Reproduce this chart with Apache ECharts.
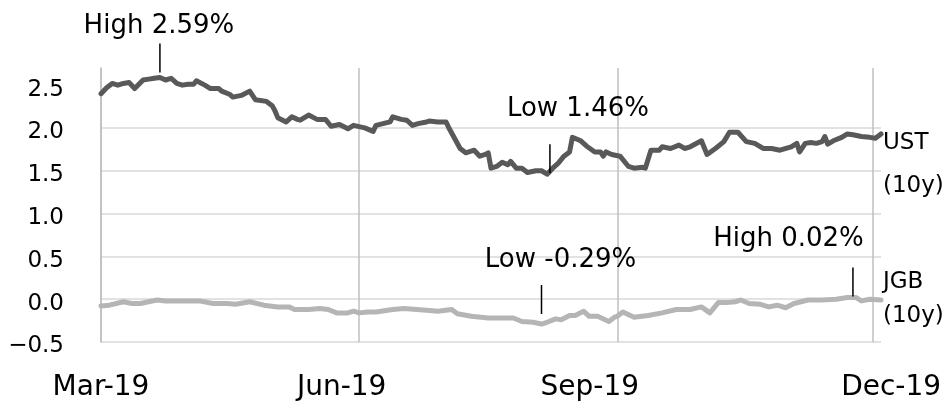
<!DOCTYPE html>
<html><head><meta charset="utf-8">
<script src="https://cdn.jsdelivr.net/npm/echarts@6/dist/echarts.min.js"></script>
<style>html,body{margin:0;padding:0;background:#fff}#c{width:949px;height:402px}</style>
</head><body><div id="c"></div>
<script>
const ustDates = ['2019-03-01','2019-03-03','2019-03-05','2019-03-07','2019-03-09','2019-03-11','2019-03-13','2019-03-16','2019-03-18','2019-03-20','2019-03-22','2019-03-24','2019-03-26','2019-03-28','2019-03-30','2019-04-01','2019-04-03','2019-04-04','2019-04-07','2019-04-09','2019-04-12','2019-04-13','2019-04-16','2019-04-17','2019-04-20','2019-04-23','2019-04-25','2019-04-29','2019-05-01','2019-05-02','2019-05-03','2019-05-06','2019-05-08','2019-05-10','2019-05-11','2019-05-14','2019-05-17','2019-05-20','2019-05-22','2019-05-25','2019-05-28','2019-05-30','2019-06-03','2019-06-06','2019-06-07','2019-06-12','2019-06-13','2019-06-16','2019-06-18','2019-06-20','2019-06-22','2019-06-25','2019-06-26','2019-06-29','2019-07-02','2019-07-03','2019-07-05','2019-07-07','2019-07-09','2019-07-12','2019-07-14','2019-07-16','2019-07-17','2019-07-18','2019-07-20','2019-07-22','2019-07-24','2019-07-25','2019-07-27','2019-07-29','2019-07-31','2019-08-03','2019-08-05','2019-08-07','2019-08-09','2019-08-11','2019-08-13','2019-08-15','2019-08-16','2019-08-19','2019-08-21','2019-08-24','2019-08-26','2019-08-27','2019-08-28','2019-08-30','2019-09-02','2019-09-05','2019-09-07','2019-09-10','2019-09-11','2019-09-13','2019-09-16','2019-09-17','2019-09-20','2019-09-23','2019-09-25','2019-09-27','2019-10-01','2019-10-03','2019-10-06','2019-10-09','2019-10-11','2019-10-14','2019-10-17','2019-10-20','2019-10-23','2019-10-26','2019-10-29','2019-11-02','2019-11-04','2019-11-05','2019-11-07','2019-11-09','2019-11-11','2019-11-13','2019-11-14','2019-11-15','2019-11-17','2019-11-20','2019-11-22','2019-11-24','2019-11-27','2019-11-30','2019-12-02','2019-12-04'];
const ustValues = [2.40,2.47,2.52,2.50,2.52,2.53,2.46,2.56,2.57,2.58,2.59,2.56,2.58,2.52,2.50,2.51,2.51,2.55,2.50,2.46,2.46,2.43,2.39,2.36,2.38,2.43,2.33,2.31,2.26,2.20,2.12,2.07,2.13,2.10,2.09,2.15,2.10,2.10,2.02,2.04,1.99,2.03,2.00,1.96,2.03,2.07,2.13,2.10,2.09,2.03,2.05,2.07,2.08,2.07,2.07,2.00,1.88,1.76,1.71,1.74,1.67,1.69,1.71,1.53,1.55,1.60,1.57,1.61,1.53,1.53,1.48,1.50,1.50,1.46,1.53,1.59,1.67,1.72,1.89,1.85,1.79,1.72,1.72,1.67,1.72,1.69,1.67,1.55,1.53,1.54,1.53,1.74,1.74,1.78,1.76,1.80,1.76,1.78,1.85,1.69,1.76,1.84,1.95,1.95,1.84,1.82,1.76,1.76,1.74,1.78,1.82,1.72,1.82,1.83,1.82,1.84,1.90,1.81,1.85,1.89,1.93,1.92,1.90,1.89,1.88,1.93];

const jgbDates = ['2019-03-01','2019-03-04','2019-03-09','2019-03-12','2019-03-15','2019-03-21','2019-03-24','2019-03-30','2019-04-05','2019-04-10','2019-04-15','2019-04-18','2019-04-23','2019-04-28','2019-05-03','2019-05-07','2019-05-09','2019-05-14','2019-05-18','2019-05-21','2019-05-24','2019-05-28','2019-05-30','2019-06-01','2019-06-04','2019-06-07','2019-06-13','2019-06-17','2019-06-25','2019-06-29','2019-07-04','2019-07-06','2019-07-11','2019-07-17','2019-07-21','2019-07-26','2019-07-29','2019-08-02','2019-08-05','2019-08-07','2019-08-10','2019-08-12','2019-08-15','2019-08-17','2019-08-20','2019-08-22','2019-08-25','2019-08-29','2019-08-31','2019-09-01','2019-09-03','2019-09-07','2019-09-12','2019-09-17','2019-09-22','2019-09-27','2019-10-01','2019-10-04','2019-10-07','2019-10-10','2019-10-13','2019-10-15','2019-10-18','2019-10-22','2019-10-25','2019-10-28','2019-10-31','2019-11-03','2019-11-08','2019-11-13','2019-11-18','2019-11-22','2019-11-25','2019-11-27','2019-11-30','2019-12-04'];
const jgbValues = [-0.08,-0.07,-0.03,-0.05,-0.05,-0.01,-0.02,-0.02,-0.02,-0.05,-0.05,-0.06,-0.03,-0.07,-0.09,-0.09,-0.12,-0.12,-0.11,-0.12,-0.16,-0.16,-0.14,-0.16,-0.15,-0.15,-0.12,-0.11,-0.13,-0.14,-0.12,-0.17,-0.20,-0.22,-0.22,-0.22,-0.26,-0.27,-0.29,-0.27,-0.23,-0.24,-0.19,-0.19,-0.14,-0.20,-0.20,-0.26,-0.21,-0.20,-0.15,-0.21,-0.19,-0.16,-0.12,-0.12,-0.09,-0.16,-0.04,-0.04,-0.03,-0.01,-0.05,-0.06,-0.09,-0.07,-0.10,-0.05,-0.01,-0.01,0.00,0.02,0.02,-0.02,0.00,-0.01];

const xTickDates = ['2019-03-01','2019-06-01','2019-09-01','2019-12-01'];
const xTickLabels = ['Mar-19','Jun-19','Sep-19','Dec-19'];
const xMinDate = '2019-03-01';
const xMaxDate = '2019-12-04';
const yTicks = [-0.5,0,0.5,1,1.5,2,2.5];
const yTickLabels = ['\u22120.5','0.0','0.5','1.0','1.5','2.0','2.5'];

const seriesNames = ['UST','JGB'];
const seriesLabels = ['UST\n(10y)','JGB\n(10y)'];

const annotSeries = ['UST','UST','JGB','JGB'];
const annotDates = ['2019-03-22','2019-08-08','2019-08-05','2019-11-24'];
const annotValues = [2.59,1.46,-0.29,0.02];
const annotTexts = ['High 2.59%','Low 1.46%','Low -0.29%','High 0.02%'];

// styling / layout (not data)
const annotLayout = [
  {symbolOffset:[0,-19.5], labelOffset:[-1,-32]},
  {symbolOffset:[0,-15.5], labelOffset:[28,-49]},
  {symbolOffset:[0,-24.5], labelOffset:[19,-39]},
  {symbolOffset:[0,-15.5], labelOffset:[-64.5,-43]}
];
const FONT = 'DejaVu Sans';
const xLabelRich = {
  t0:{fontSize:28, fontFamily:FONT, color:'#000'},
  t1:{fontSize:28, fontFamily:FONT, color:'#000', padding:[0,35,0,0]},
  t2:{fontSize:28, fontFamily:FONT, color:'#000', padding:[0,55,0,0]},
  t3:{fontSize:28, fontFamily:FONT, color:'#000', padding:[0,0,0,37]}
};

function ts(s){ const p = s.split('-').map(Number); return new Date(p[0], p[1]-1, p[2]).getTime(); }
const xTickValues = xTickDates.map(ts);

function markData(name){
  const out = [];
  annotSeries.forEach((s,i)=>{
    if (s !== name) return;
    out.push({
      coord:[ts(annotDates[i]), annotValues[i]],
      symbolOffset: annotLayout[i].symbolOffset,
      label:{offset: annotLayout[i].labelOffset, formatter: annotTexts[i]}
    });
  });
  return out;
}

function makeSeries(idx, dates, values, color, endOffset, lh){
  const name = seriesNames[idx];
  return {
    name: name, type:'line', showSymbol:false, animation:false, silent:true,
    data: dates.map((d,i)=>[ts(d), values[i]]),
    lineStyle:{color:color, width:5, join:'round', cap:'round'},
    endLabel:{show:true, formatter: seriesLabels[idx], color:'#000', fontSize:23, fontFamily:FONT,
      lineHeight: lh, distance:2, offset:endOffset, align:'left'},
    markPoint:{
      silent:true, animation:false,
      symbol:'rect', symbolSize:[1.5,29],
      itemStyle:{color:'#000'},
      label:{show:true, position:'inside', color:'#000', fontSize:26, fontFamily:FONT},
      data: markData(name)
    }
  };
}

function nearestIndex(v, ticks){
  let best=0, bd=Infinity;
  ticks.forEach((t,i)=>{ const d=Math.abs(t-v); if(d<bd){bd=d;best=i;} });
  return best;
}

const chart = echarts.init(document.getElementById('c'), null, {renderer:'canvas'});
chart.setOption({
  animation:false,
  backgroundColor:'#fff',
  grid:{left:101, right:68, top:68, bottom:60, containLabel:false},
  xAxis:{
    type:'value', min: ts(xMinDate), max: ts(xMaxDate), scale:true,
    axisLine:{show:false},
    axisTick:{show:false, customValues: xTickValues},
    axisLabel:{customValues: xTickValues, color:'#000', fontSize:28, fontFamily:FONT, margin:32, rich:xLabelRich,
      formatter:function(v){ const i = nearestIndex(v, xTickValues); return '{t' + i + '|' + xTickLabels[i] + '}'; }},
    splitLine:{show:true, lineStyle:{color:'#bfbfbf', width:1.5}}
  },
  yAxis:{
    type:'value', min:-0.5, max:2.7, interval:0.5,
    axisLine:{show:true, lineStyle:{color:'#bfbfbf', width:1.5}},
    axisTick:{show:false, customValues: yTicks},
    axisLabel:{customValues: yTicks, color:'#000', fontSize:23, fontFamily:FONT, margin:37,
      verticalAlign:'top', lineHeight:9,
      formatter:function(v){ return yTickLabels[nearestIndex(v, yTicks)]; }},
    splitLine:{show:true, showMaxLine:false, lineStyle:{color:'#d9d9d9', width:1.5}}
  },
  series:[
    makeSeries(0, ustDates, ustValues, '#595959', [0,30.5], 43),
    makeSeries(1, jgbDates, jgbValues, '#b5b5b5', [0,-1], 34)
  ]
});
</script>
</body></html>
